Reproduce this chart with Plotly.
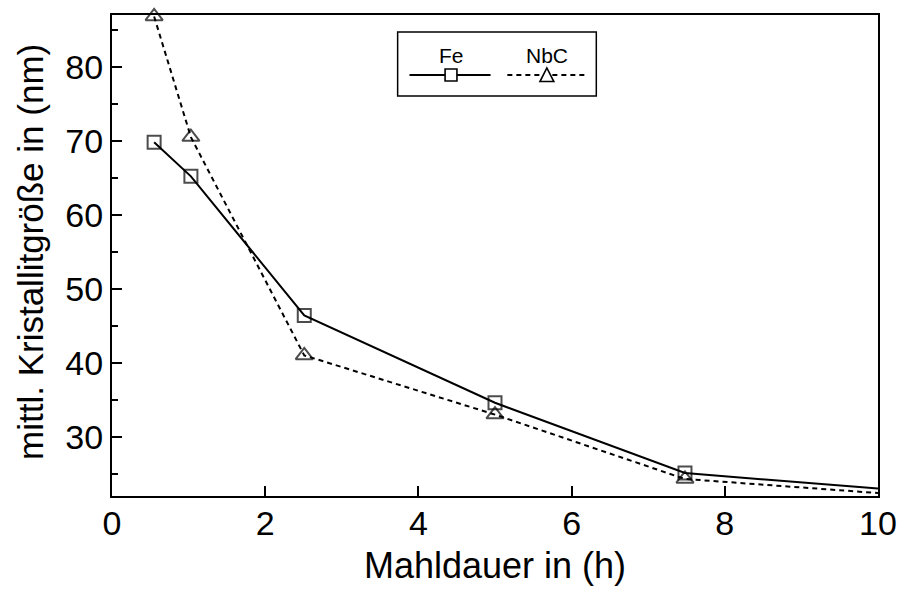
import plotly.graph_objects as go

# Milling time (h) and mean crystallite size (nm)
mahldauer = [0.55, 1.03, 2.51, 5.0, 7.48, 10.0]
fe_groesse = [69.8, 65.2, 46.4, 34.6, 25.1, 23.0]
nbc_groesse = [86.8, 70.5, 41.0, 33.0, 24.3, 22.4]
# markers are drawn for measured points only (not the line end at 10 h)
marker_sizes = [13, 13, 13, 13, 13, 0]
tri_sizes = [15, 15, 15, 15, 15, 0]

x_ticks = [0, 2, 4, 6, 8, 10]
y_ticks = [30, 40, 50, 60, 70, 80]

FONT = "Liberation Sans, Arial, Helvetica, sans-serif"

fig = go.Figure()
fig.add_trace(go.Scatter(
    x=mahldauer, y=fe_groesse, mode="lines+markers", name="Fe",
    line=dict(color="black", width=2),
    marker=dict(symbol="square-open", size=marker_sizes, color="black",
                line=dict(width=2, color="black")),
    cliponaxis=False, showlegend=False,
))
fig.add_trace(go.Scatter(
    x=mahldauer, y=nbc_groesse, mode="lines+markers", name="NbC",
    line=dict(color="black", width=2, dash="5px,4px"),
    marker=dict(symbol="triangle-up-open", size=tri_sizes, color="black",
                line=dict(width=2, color="black")),
    cliponaxis=False, showlegend=False,
))

# Plot-area geometry (pixels) used for the hand-built legend and y title
W, H = 909, 594
ML, MR, MT, MB = 112, 22, 15, 98
PW, PH = W - ML - MR, H - MT - MB


def px(xp):
    return (xp - ML) / PW


def py(yp):
    return (H - MB - yp) / PH


shapes = []
# legend frame
shapes.append(dict(type="rect", xref="paper", yref="paper",
                   x0=px(401), x1=px(602), y0=py(96), y1=py(32),
                   line=dict(color="black", width=1.5), fillcolor="white", layer="above"))
# legend line samples
shapes.append(dict(type="line", xref="paper", yref="paper",
                   x0=px(413), x1=px(495), y0=py(75), y1=py(75),
                   line=dict(color="black", width=2)))
shapes.append(dict(type="line", xref="paper", yref="paper",
                   x0=px(512), x1=px(590), y0=py(75), y1=py(75),
                   line=dict(color="black", width=2, dash="5px,4px")))
# legend marker samples
shapes.append(dict(type="rect", xref="paper", yref="paper",
                   x0=px(449), x1=px(461), y0=py(81), y1=py(69),
                   line=dict(color="black", width=1.6), fillcolor="white"))
tri = "M {:.4f},{:.4f} L {:.4f},{:.4f} L {:.4f},{:.4f} Z".format(
    px(545), py(81.5), px(559), py(81.5), px(552), py(68))
shapes.append(dict(type="path", xref="paper", yref="paper", path=tri,
                   line=dict(color="black", width=1.6), fillcolor="white"))

annotations = [
    dict(text="Fe", xref="paper", yref="paper", x=px(455), y=py(55),
         xanchor="center", yanchor="middle",
         showarrow=False, font=dict(size=21, color="black", family=FONT)),
    dict(text="NbC", xref="paper", yref="paper", x=px(552), y=py(55),
         xanchor="center", yanchor="middle",
         showarrow=False, font=dict(size=21, color="black", family=FONT)),
    # y-axis title
    dict(text="mittl. Kristallitgröße in (nm)", xref="paper", yref="paper",
         x=px(29), y=py(252), xanchor="center", yanchor="middle", textangle=-90,
         showarrow=False, font=dict(size=35, color="black", family=FONT)),
]

fig.update_layout(
    width=W, height=H,
    margin=dict(l=ML, r=MR, t=MT, b=MB),
    paper_bgcolor="white", plot_bgcolor="white",
    font=dict(family=FONT, color="black"),
    shapes=shapes, annotations=annotations,
    xaxis=dict(
        range=[0, 10], tickvals=x_ticks, ticktext=[str(v) for v in x_ticks],
        ticks="inside", ticklen=10, tickwidth=1.5, tickcolor="black",
        ticklabelstandoff=-4,
        showline=True, linecolor="black", linewidth=2, mirror=True,
        showgrid=False, zeroline=False,
        tickfont=dict(size=34, family=FONT),
        title=dict(text="Mahldauer in (h)", font=dict(size=36, family=FONT), standoff=12),
    ),
    yaxis=dict(
        range=[22, 87], tickvals=y_ticks, ticktext=[str(v) for v in y_ticks],
        ticks="inside", ticklen=10, tickwidth=1.5, tickcolor="black",
        minor=dict(ticks="inside", ticklen=6, tickwidth=1.5, tickcolor="black",
                   tickvals=[25, 35, 45, 55, 65, 75, 85]),
        showline=True, linecolor="black", linewidth=2, mirror=True,
        showgrid=False, zeroline=False,
        tickfont=dict(size=34, family=FONT),
    ),
)

fig.write_html("out.html")
